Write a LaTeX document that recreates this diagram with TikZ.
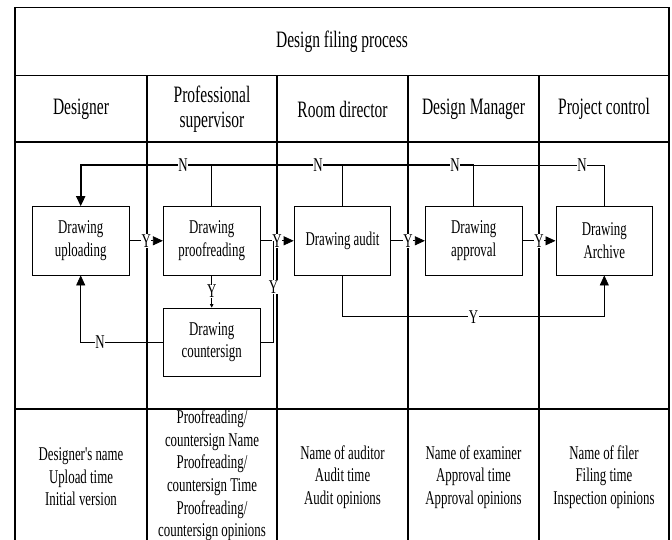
\documentclass[tikz,border=0pt]{standalone}
\usepackage{fontspec}
\setmainfont{Liberation Serif}[FakeStretch=0.66]
\newfontfamily\plainser{Liberation Serif}[FakeStretch=0.66]
\usetikzlibrary{arrows.meta}
\newcommand\myBody{\fontsize{19.5pt}{22.6pt}\selectfont}
\newcommand\myHead{\fontsize{23.5pt}{25pt}\selectfont}
\begin{document}
\begin{tikzpicture}[x=1pt,y=-1pt,
  grid/.style={line width=1.3pt, black},
  box/.style={draw, line width=0.9pt, minimum width=96.7pt, minimum height=68.3pt, inner sep=0pt, align=center, font=\myBody},
  conn/.style={line width=0.8pt},
  tip/.style={-{Triangle[length=10pt,width=9pt]}},
  smalltip/.style={-{Triangle[length=3.5pt,width=3.5pt]}},
  lbl/.style={fill=white, inner sep=0.6pt, font=\myBody},
  head/.style={align=center, font=\myHead, inner sep=0pt},
  info/.style={align=center, font=\myBody, inner sep=0pt}]
\useasboundingbox (0,0) rectangle (672,540);
% table
\draw[grid] (15,540) -- (15,7.5) -- (669,7.5) -- (669,540);
\draw[grid] (15,75.5) -- (669,75.5);
\draw[grid] (15,142) -- (669,142);
\draw[grid] (15,409) -- (669,409);
\foreach \x in {147,277,408,539} \draw[grid] (\x,75.5) -- (\x,540);
% title and headers
\node[head] (title) at (342,42) {Design filing process};
\node[head] (h1) at (81,109) {Designer};
\node[head] (h2) at (212,109) {Professional\\supervisor};
\node[head] (h3) at (342.5,109) {Room director};
\node[head] (h4) at (473.5,109) {Design Manager};
\node[head] (h5) at (604,109) {Project control};
% boxes
\node[box] (up) at (80.7,240.8) {Drawing\\uploading};
\node[box] (proof) at (211.7,240.8) {Drawing\\proofreading};
\node[box] (audit) at (342.5,240.8) {Drawing audit};
\node[box] (appr) at (473.7,240.8) {Drawing\\approval};
\node[box] (arch) at (604.3,240.8) {Drawing\\Archive};
\node[box] (cs) at (211.7,342.2) {Drawing\\countersign};
% coordinates
\coordinate (ntop) at (80.7,165);
\coordinate (csr) at (273.5,342.2);
\coordinate (ybot) at (342.5,316.7);
% N feedback lines on top
\draw[conn] (proof.north) -- (proof.north |- ntop);
\draw[conn] (audit.north) -- (audit.north |- ntop);
\draw[conn] (appr.north) -- (appr.north |- ntop);
\draw[conn] (arch.north) |- (appr.north |- ntop);
\draw[line width=1.8pt, tip] (appr.north |- ntop) -- (ntop) -- (up.north);
\node[lbl] (n1) at (183,165) {N};
\node[lbl] (n2) at (318,165) {N};
\node[lbl] (n3) at (455,165) {N};
\node[lbl] (n4) at (582,165) {N};
% Y main flow
\draw[conn,tip] (up) -- node[lbl] (y1) {Y} (proof);
\draw[conn,tip] (proof) -- node[lbl] (y2) {Y} (audit);
\draw[conn,tip] (audit) -- node[lbl] (y3) {Y} (appr);
\draw[conn,tip] (appr) -- node[lbl] (y4) {Y} (arch);
% proofreading -> countersign
\draw[conn,smalltip] (proof) -- node[lbl] (y5) {Y} (cs);
% countersign -> audit
\draw[conn] (cs.east) -- (csr) -- (csr |- audit.west);
\node[lbl] (y6) at (273.5,287) {Y};
% countersign -> uploading
\draw[conn,tip] (cs.west) -| (up.south);
\node[lbl] (n5) at (100,342.2) {N};
% audit -> archive
\draw[conn,tip] (audit.south) -- (ybot) -| node[lbl,pos=0.25] (y7) {Y} (arch.south);
% info row
\node[info] (i1) at (81,477) {{\plainser Designer's name}\\Upload time\\Initial version};
\node[info] (i2) at (212,475.5) {Proofreading/\\countersign Name\\Proofreading/\\countersign Time\\Proofreading/\\countersign opinions};
\node[info] (i3) at (342.5,477) {Name of auditor\\Audit time\\Audit opinions};
\node[info] (i4) at (473.5,477) {Name of examiner\\Approval time\\Approval opinions};
\node[info] (i5) at (604,477) {Name of filer\\Filing time\\Inspection opinions};
\end{tikzpicture}
\end{document}
